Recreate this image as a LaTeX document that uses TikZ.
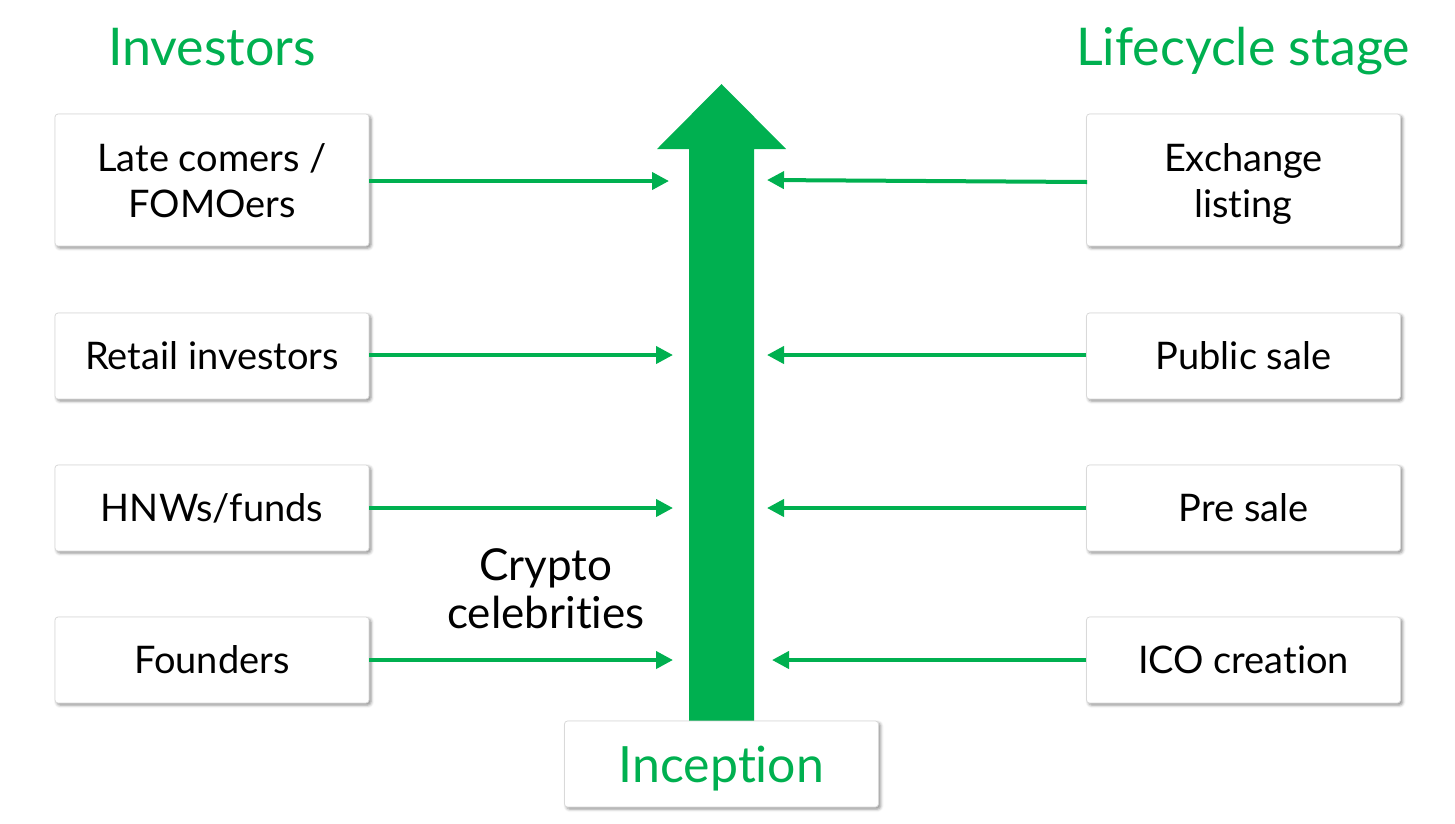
\documentclass[tikz,border=0pt]{standalone}
\usepackage{fontspec}
\setmainfont{Lato}[Ligatures={NoCommon}]
\usetikzlibrary{arrows.meta,shadows.blur}
\definecolor{grn}{HTML}{00B050}
\tikzset{
  box/.style={draw=black!15, line width=0.8pt, fill=white, rounded corners=3pt,
    minimum width=314pt, minimum height=86pt, align=center, inner sep=0pt,
    font=\fontsize{38}{46}\selectfont,
    blur shadow={shadow xshift=2pt, shadow yshift=-2pt, shadow blur radius=3pt, shadow opacity=45}},
  tall/.style={minimum height=132pt, text depth=0pt},
  title/.style={text=grn, font=\fontsize{52}{60}\selectfont, anchor=base},
  conn/.style={draw=grn, line width=4pt, -{Triangle[length=17pt,width=17pt]}},
}
\begin{document}
\begin{tikzpicture}[x=1pt,y=-1pt]
\useasboundingbox (0,0) rectangle (1455,823);
% titles
\node[title] (tinv) at (212,65) {Investors};
\node[title] (tlife) at (1243,65) {Lifecycle stage};
% big arrow
\fill[grn] (689,721) -- (689,149) -- (657,149) -- (721.5,84) -- (786,149) -- (754,149) -- (754,721) -- cycle;
% left boxes
\node[box,tall] (late) at (212,180) {Late comers /\\FOMOers};
\node[box] (retail) at (212,356) {Retail investors};
\node[box] (hnw) at (212,508) {HNWs/funds};
\node[box] (found) at (212,660) {Founders};
% right boxes
\node[box,tall] (exch) at (1243.5,180) {Exchange\\listing};
\node[box] (pub) at (1243.5,356) {Public sale};
\node[box] (pre) at (1243.5,508) {Pre sale};
\node[box] (ico) at (1243.5,660) {ICO creation};
% inception
\node[box, text=grn, text depth=0pt, font=\fontsize{50}{60}\selectfont] (inc) at (721.5,764) {Inception};
% crypto celebrities
\node[align=center, inner sep=0pt, font=\fontsize{44}{48}\selectfont] (celeb) at (546,589) {Crypto\\celebrities};
% arrow end coordinates
\coordinate (l1) at (669,181);
\coordinate (l2) at (673,355);
\coordinate (l3) at (673,508);
\coordinate (l4) at (673,660);
\coordinate (r1s) at (1087,182);
\coordinate (r1) at (767,180);
\coordinate (r2) at (767,355);
\coordinate (r3) at (767,508);
\coordinate (r4) at (772,660);
% connectors
\draw[conn] (late.east |- l1) -- (l1);
\draw[conn] (retail.east |- l2) -- (l2);
\draw[conn] (hnw.east |- l3) -- (l3);
\draw[conn] (found.east |- l4) -- (l4);
\draw[conn] (r1s) -- (r1);
\draw[conn] (pub.west |- r2) -- (r2);
\draw[conn] (pre.west |- r3) -- (r3);
\draw[conn] (ico.west |- r4) -- (r4);
\end{tikzpicture}
\end{document}
